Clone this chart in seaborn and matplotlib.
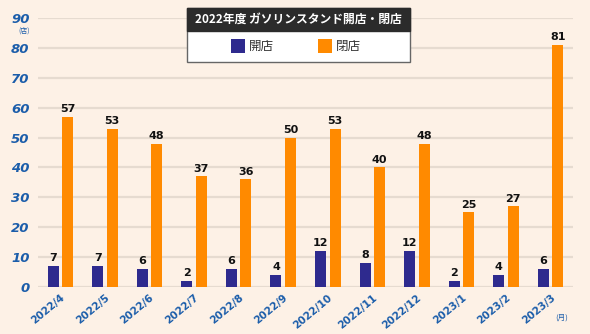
import matplotlib
matplotlib.use("Agg")
import matplotlib.pyplot as plt
import seaborn as sns
import pandas as pd
from matplotlib.patches import Rectangle

categories = ["2022/4", "2022/5", "2022/6", "2022/7", "2022/8", "2022/9",
              "2022/10", "2022/11", "2022/12", "2023/1", "2023/2", "2023/3"]
opened = [7, 7, 6, 2, 6, 4, 12, 8, 12, 2, 4, 6]
closed = [57, 53, 48, 37, 36, 50, 53, 40, 48, 25, 27, 81]
series_names = ["開店", "閉店"]
y_ticks = list(range(0, 91, 10))

BG = "#FDF1E6"
BLUE = "#2E2A8E"
ORANGE = "#FF8A00"
TICK = "#1B5DAA"
GRID = "#E6DBD0"

sns.set_theme(style="white")
plt.rcParams["font.family"] = ["Noto Sans CJK JP", "DejaVu Sans"]

df = pd.DataFrame({
    "month": categories * 2,
    "value": opened + closed,
    "type": [series_names[0]] * len(categories) + [series_names[1]] * len(categories),
})

W, H = 590, 334
fig = plt.figure(figsize=(W / 100, H / 100), dpi=100, facecolor=BG)
ax = fig.add_axes([38 / W, (H - 287) / H, (573 - 38) / W, (287 - 18) / H])
ax.set_facecolor(BG)

sns.barplot(data=df, x="month", y="value", hue="type", order=categories,
            hue_order=series_names, palette=[BLUE, ORANGE], width=0.65,
            gap=0.24, saturation=1, ax=ax, legend=False, zorder=3,
            linewidth=0, edgecolor="none")

ax.set_ylim(0, 90)
ax.set_xlim(-0.5, len(categories) - 0.5)
ax.set_yticks(y_ticks)
ax.yaxis.grid(True, color=GRID, linewidth=1.6, zorder=0)
ax.set_axisbelow(True)
for s in ax.spines.values():
    s.set_visible(False)
ax.set_xlabel("")
ax.set_ylabel("")
ax.tick_params(axis="both", length=0)
ax.tick_params(axis="y", pad=6)
for lbl in ax.get_yticklabels():
    lbl.set_fontfamily("DejaVu Sans")
    lbl.set_fontweight("bold")
    lbl.set_fontstyle("italic")
    lbl.set_color(TICK)
    lbl.set_fontsize(9.5)
ax.set_xticks(range(len(categories)))
ax.set_xticklabels(categories, rotation=40, ha="right", rotation_mode="anchor",
                   fontsize=7.5, fontweight="bold", color=TICK, family="DejaVu Sans")
ax.tick_params(axis="x", pad=4)

for cont in ax.containers:
    ax.bar_label(cont, padding=2, fontsize=8, fontweight="bold", color="#111111",
                 family="DejaVu Sans")

# unit labels
fig.text(24 / W, 1 - 31 / H, "(店)", fontsize=5, color=TICK, ha="center", va="center")
fig.text(562 / W, 1 - 318 / H, "(月)", fontsize=5.5, color=TICK, ha="center", va="center")

# legend box
lx0, lx1 = 187, 410
ty0, ty1, by1 = 8, 31, 62
fig.patches.append(Rectangle((lx0 / W, 1 - by1 / H), (lx1 - lx0) / W, (by1 - ty0) / H,
                             transform=fig.transFigure, facecolor="white",
                             edgecolor="#666666", linewidth=1, zorder=5))
fig.patches.append(Rectangle((lx0 / W, 1 - ty1 / H), (lx1 - lx0) / W, (ty1 - ty0) / H,
                             transform=fig.transFigure, facecolor="#2B2B2B",
                             edgecolor="#2B2B2B", linewidth=1, zorder=6))
fig.text((lx0 + lx1) / 2 / W, 1 - 19.5 / H, "2022年度 ガソリンスタンド開店・閉店",
         fontsize=8.5, fontweight="bold", color="white", ha="center", va="center", zorder=7)
for xs, col, name in [(231, BLUE, series_names[0]), (318, ORANGE, series_names[1])]:
    fig.patches.append(Rectangle((xs / W, 1 - 53 / H), 14 / W, 14 / H,
                                 transform=fig.transFigure, facecolor=col,
                                 edgecolor="none", zorder=7))
    fig.text((xs + 18) / W, 1 - 46 / H, name, fontsize=9, color="#333333",
             ha="left", va="center", zorder=7)

fig.savefig("out.png", dpi=100, facecolor=BG)
